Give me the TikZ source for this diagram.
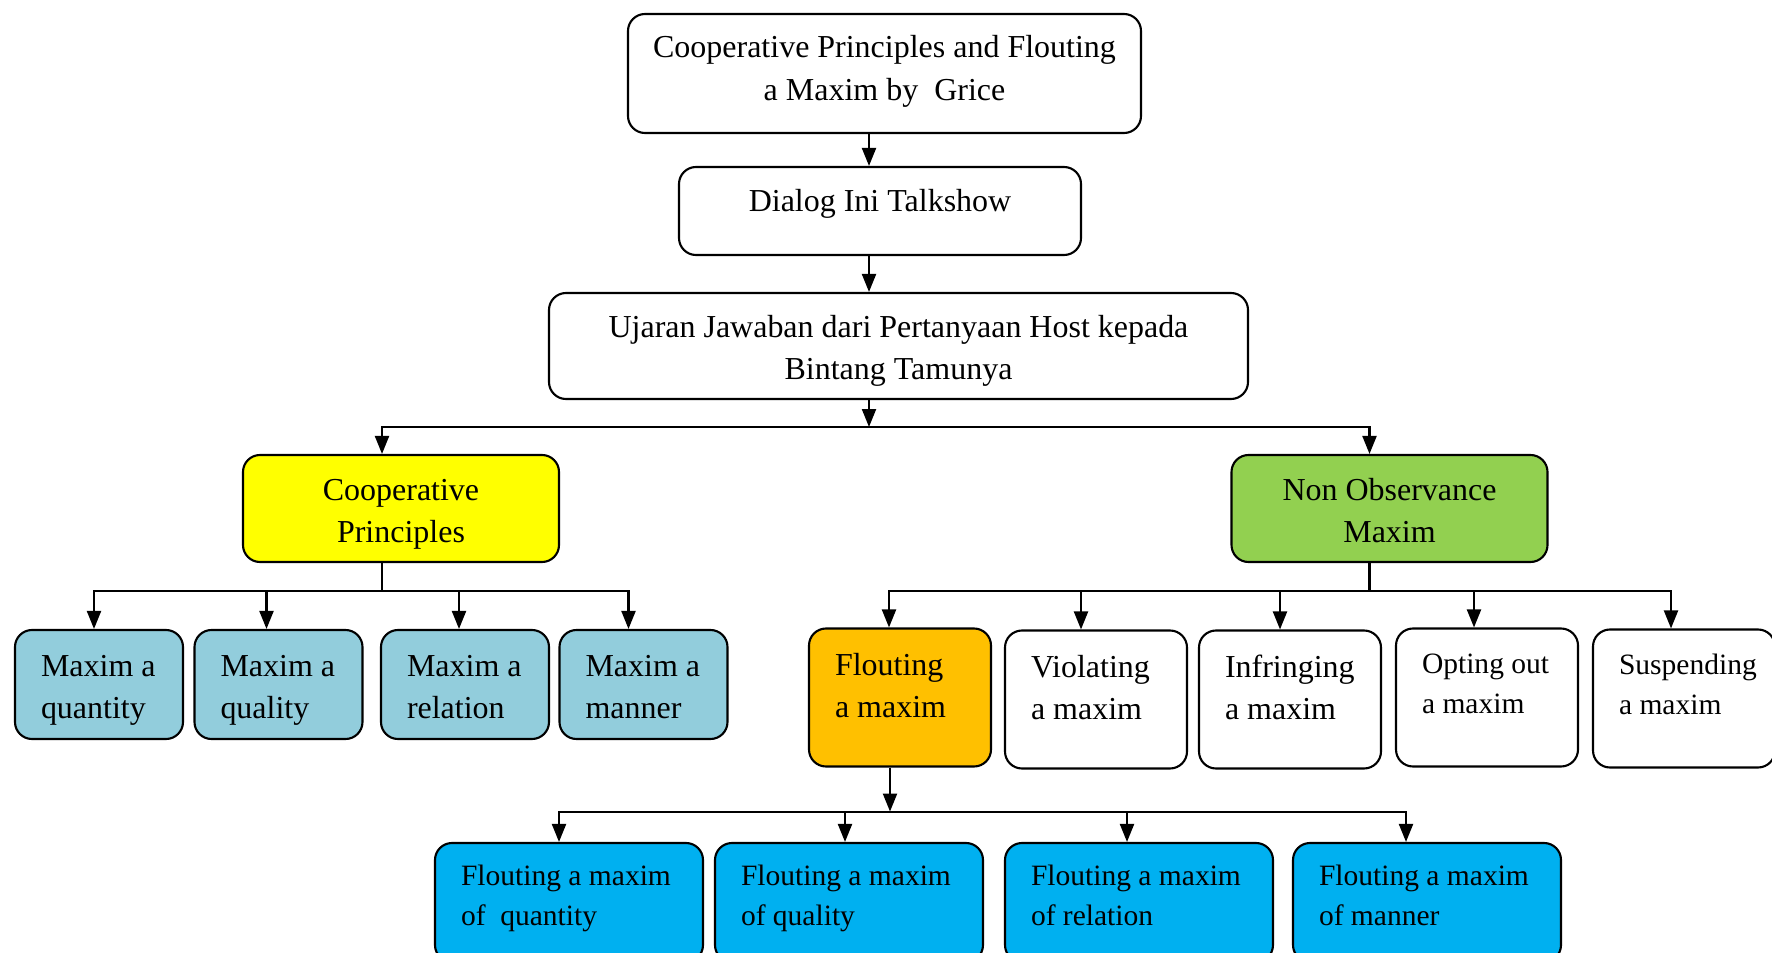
\documentclass[tikz,border=0pt]{standalone}
\usepackage{fontspec}
\setmainfont{Liberation Serif}
\usetikzlibrary{arrows.meta}
\newlength\px
\setlength\px{0.02cm}
\hyphenpenalty=10000
\exhyphenpenalty=10000
\definecolor{cpyellow}{HTML}{FFFF00}
\definecolor{nogreen}{HTML}{92D050}
\definecolor{mxblue}{HTML}{92CDDC}
\definecolor{florange}{HTML}{FFC000}
\definecolor{fmblue}{HTML}{00B0F0}
\begin{document}
\begin{tikzpicture}[x=0.02cm, y=-0.02cm,
  box/.style={draw, line width=1.2pt, rounded corners=17\px, inner ysep=0pt, font=\fontsize{18.2}{24}\selectfont},
  small/.style={font=\fontsize{16.8}{23}\selectfont},
  tx/.style 2 args={text height=#1\px, text depth=#2\px},
  headbox/.style={box, align=flush center, inner xsep=10\px},
  catbox/.style={headbox, tx={32}{48}, text width=296\px, minimum width=316\px, minimum height=107\px},
  subbox/.style={box, tx={32}{48}, fill=mxblue, align=flush left, text width=116\px, inner xsep=26\px, minimum width=168\px, minimum height=109\px},
  kindbox/.style={box, tx={18}{62}, align=flush left, text width=130\px, inner xsep=26\px, minimum width=182\px, minimum height=138\px},
  typebox/.style={box, small, tx={23}{57}, fill=fmblue, align=flush left, text width=216\px, inner xsep=26\px, minimum width=268\px, minimum height=119\px},
  arr/.style={-{Triangle[length=0.36cm, width=0.28cm]}, line width=1.2pt},
]
  \useasboundingbox (0,0) rectangle (1772,953);
  \clip (0,0) rectangle (1772,953);

  \node[headbox, tx={24.5}{55.5}, text width=493\px, minimum width=513\px, minimum height=119\px] (grice) at (884.5,73.5) {Cooperative Principles and Flouting\\a Maxim by\ \ Grice};
  \node[headbox, tx={40.6}{39.4}, text width=382\px, minimum width=402\px, minimum height=88\px] (dialog) at (880,211) {Dialog Ini Talkshow};
  \node[headbox, tx={31}{49}, text width=679\px, minimum width=699\px, minimum height=106\px] (ujaran) at (898.5,346) {Ujaran Jawaban dari Pertanyaan Host kepada\\Bintang Tamunya};

  \node[catbox, fill=cpyellow] (coop) at (401,508.5) {Cooperative\\Principles};
  \node[catbox, fill=nogreen] (nonobs) at (1389.5,508.5) {Non Observance\\Maxim};

  \foreach \n/\x/\txt in {qty/99/quantity, qly/278.5/quality, rel/465/relation, man/643.5/manner}
    \node[subbox] (\n) at (\x,684.5) {Maxim~a\\\txt};

  \node[kindbox, fill=florange] (flout) at (900,697.5) {Flouting\\a maxim};
  \node[kindbox] (viol) at (1096,699.5) {Violating\\a maxim};
  \node[kindbox] (infr) at (1290,699.5) {Infringing\\a maxim};
  \node[kindbox, small, tx={15.5}{64.5}] (opt) at (1487,697.5) {Opting out\\a maxim};
  \node[kindbox, small, tx={15.5}{64.5}] (susp) at (1684,698.5) {Suspending\\a maxim};

  \foreach \n/\x/\txt in {fqty/569/of\ \ quantity, fqly/849/of quality, frel/1139/of relation, fman/1427/of manner}
    \node[typebox] (\n) at (\x,902.5) {Flouting~a~maxim\\\txt};

  % connectors
  \coordinate (spine) at (869,427);
  \draw[arr] (grice.south -| spine) -- (dialog.north -| spine);
  \draw[arr] (dialog.south -| spine) -- (ujaran.north -| spine);
  \draw[arr] (ujaran.south -| spine) -- (spine);
  \draw[arr] (spine) -| ([xshift=-19\px]coop.north);
  \draw[arr] (spine) -| ([xshift=-20\px]nonobs.north);

  \coordinate (cpbar) at ([xshift=-19\px, yshift=-28\px]coop.south);
  \draw[line width=1.2pt] (coop.south -| cpbar) -- (cpbar);
  \foreach \n/\s in {qty/-5, qly/-12, rel/-6, man/-15}
    \draw[arr] (cpbar) -| ([xshift=\s\px]\n.north);

  \coordinate (nobar) at ([xshift=-20\px, yshift=-28\px]nonobs.south);
  \draw[line width=1.2pt] (nonobs.south -| nobar) -- (nobar);
  \foreach \n/\s in {flout/-11, viol/-15, infr/-10, opt/-13, susp/-13}
    \draw[arr] (nobar) -| ([xshift=\s\px]\n.north);

  \coordinate (flbar) at ([xshift=-10\px, yshift=-44\px]flout.south);
  \draw[arr] (flout.south -| flbar) -- (flbar);
  \foreach \n/\s in {fqty/-10, fqly/-4, frel/-12, fman/-21}
    \draw[arr] (flbar) -| ([xshift=\s\px]\n.north);
\end{tikzpicture}
\end{document}
